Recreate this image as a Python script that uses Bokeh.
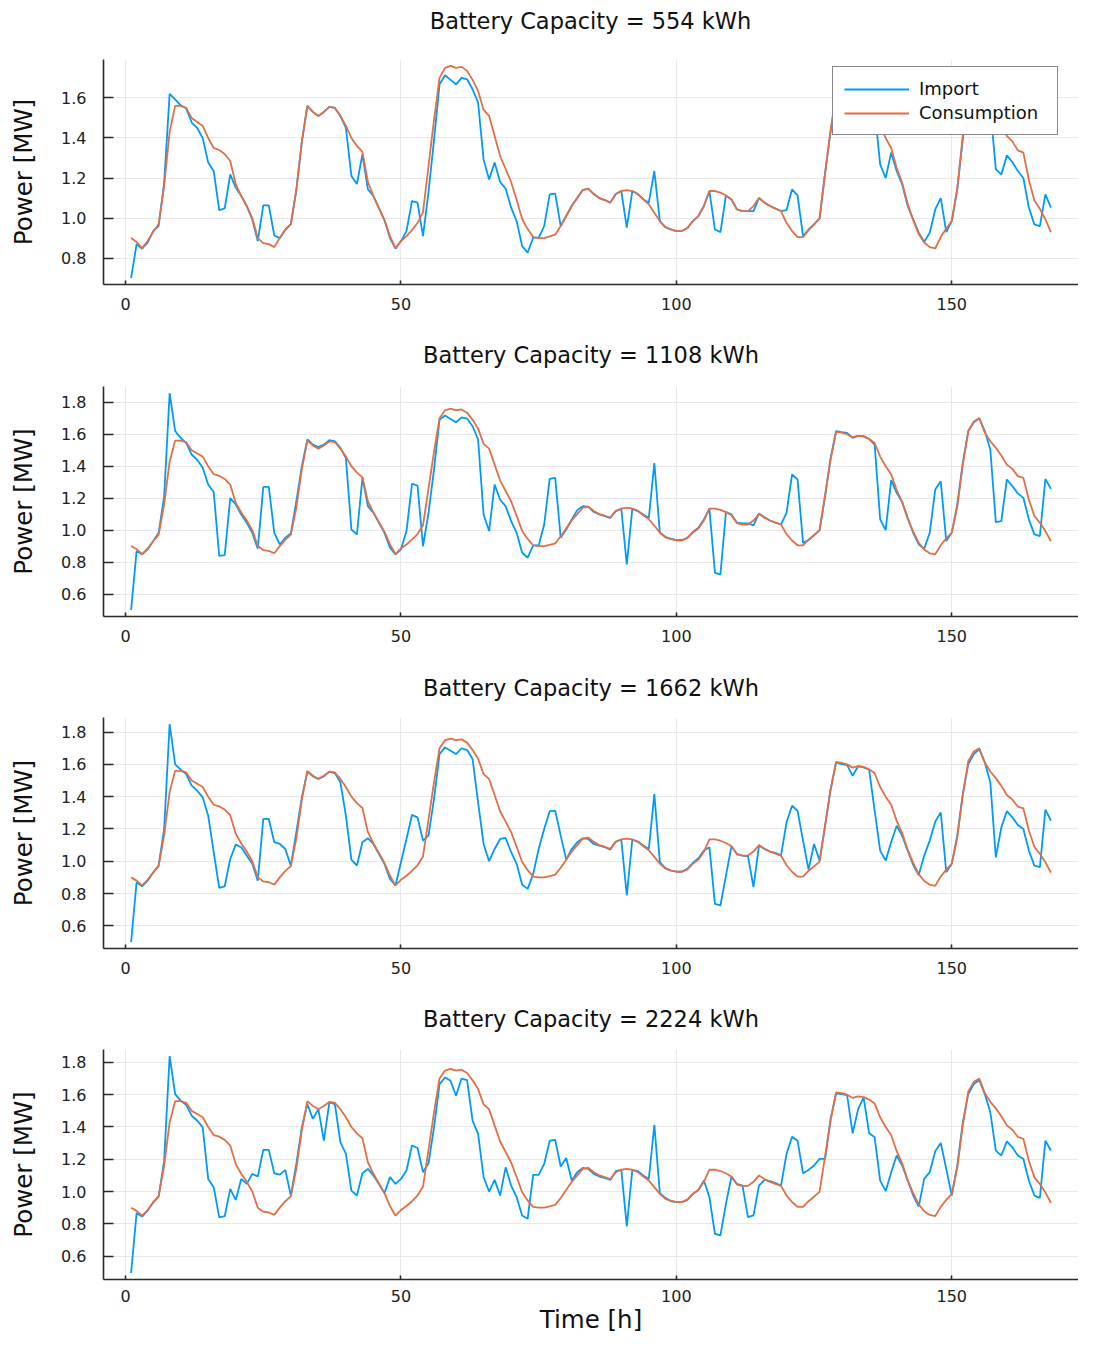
from bokeh.plotting import figure
from bokeh.layouts import column
from bokeh.models import Range1d, FixedTicker, Legend, LegendItem, PrintfTickFormatter, Div
from bokeh.embed import file_html
from bokeh.resources import INLINE

hours = list(range(1, 169))

consumption = [
    0.90, 0.88, 0.85, 0.885, 0.93, 0.97, 1.16, 1.43, 1.56, 1.56,
    1.55, 1.50, 1.48, 1.46, 1.40, 1.35, 1.34, 1.32, 1.285, 1.17,
    1.11, 1.06, 1.00, 0.90, 0.875, 0.87, 0.855, 0.90, 0.94, 0.97,
    1.14, 1.38, 1.56, 1.53, 1.51, 1.53, 1.555, 1.55, 1.51, 1.46,
    1.40, 1.36, 1.33, 1.18, 1.11, 1.05, 0.99, 0.91, 0.85, 0.885,
    0.91, 0.94, 0.975, 1.03, 1.26, 1.49, 1.70, 1.75, 1.76, 1.75,
    1.755, 1.735, 1.69, 1.635, 1.54, 1.51, 1.41, 1.31, 1.245, 1.18,
    1.09, 0.995, 0.945, 0.905, 0.90, 0.90, 0.908, 0.917, 0.96, 1.01,
    1.06, 1.10, 1.14, 1.147, 1.12, 1.10, 1.09, 1.077, 1.12, 1.135,
    1.14, 1.135, 1.12, 1.093, 1.068, 1.027, 0.985, 0.955, 0.943, 0.935,
    0.935, 0.95, 0.985, 1.01, 1.06, 1.135, 1.135, 1.127, 1.113, 1.093,
    1.043, 1.035, 1.035, 1.06, 1.10, 1.077, 1.06, 1.047, 1.035, 0.975,
    0.935, 0.905, 0.905, 0.94, 0.968, 0.998, 1.22, 1.44, 1.615, 1.61,
    1.60, 1.58, 1.59, 1.585, 1.57, 1.545, 1.46, 1.40, 1.35, 1.25,
    1.175, 1.07, 0.99, 0.92, 0.878, 0.855, 0.848, 0.905, 0.948, 0.985,
    1.147, 1.41, 1.62, 1.68, 1.70, 1.61, 1.556, 1.515, 1.467, 1.41,
    1.383, 1.338, 1.327, 1.19, 1.088, 1.046, 0.994, 0.93,
]

import_554 = [
    0.70, 0.87, 0.847, 0.877, 0.935, 0.96, 1.177, 1.62, 1.593, 1.563,
    1.548, 1.477, 1.45, 1.40, 1.277, 1.235, 1.04, 1.048, 1.218, 1.152,
    1.11, 1.06, 0.993, 0.885, 1.063, 1.063, 0.913, 0.90, 0.943, 0.97,
    1.14, 1.38, 1.56, 1.53, 1.51, 1.53, 1.555, 1.55, 1.51, 1.45,
    1.21, 1.17, 1.318, 1.143, 1.11, 1.05, 0.99, 0.90, 0.847, 0.885,
    0.935, 1.085, 1.077, 0.91, 1.13, 1.39, 1.668, 1.713, 1.69, 1.668,
    1.70, 1.693, 1.643, 1.577, 1.293, 1.193, 1.277, 1.18, 1.147, 1.052,
    0.985, 0.86, 0.827, 0.902, 0.902, 0.96, 1.118, 1.122, 0.96, 1.01,
    1.06, 1.10, 1.14, 1.147, 1.12, 1.10, 1.09, 1.077, 1.12, 1.135,
    0.952, 1.135, 1.12, 1.093, 1.077, 1.235, 0.985, 0.955, 0.943, 0.935,
    0.935, 0.95, 0.985, 1.01, 1.06, 1.135, 0.943, 0.93, 1.113, 1.093,
    1.043, 1.035, 1.035, 1.035, 1.10, 1.077, 1.06, 1.047, 1.035, 1.04,
    1.143, 1.113, 0.91, 0.943, 0.968, 0.997, 1.227, 1.43, 1.62, 1.61,
    1.60, 1.58, 1.59, 1.585, 1.57, 1.54, 1.268, 1.20, 1.327, 1.235,
    1.168, 1.06, 0.993, 0.927, 0.882, 0.927, 1.043, 1.10, 0.93, 0.985,
    1.143, 1.393, 1.62, 1.68, 1.70, 1.61, 1.55, 1.243, 1.218, 1.313,
    1.28, 1.235, 1.20, 1.052, 0.968, 0.96, 1.118, 1.052,
]

import_1108 = [
    0.50, 0.869, 0.848, 0.879, 0.931, 0.983, 1.21, 1.858, 1.62, 1.577,
    1.546, 1.473, 1.44, 1.39, 1.285, 1.238, 0.838, 0.844, 1.20, 1.16,
    1.098, 1.046, 0.983, 0.883, 1.27, 1.27, 0.983, 0.91, 0.952, 0.979,
    1.18, 1.40, 1.567, 1.535, 1.519, 1.535, 1.563, 1.556, 1.515, 1.45,
    1.004, 0.973, 1.327, 1.15, 1.108, 1.046, 0.983, 0.89, 0.848, 0.879,
    0.994, 1.29, 1.279, 0.90, 1.108, 1.38, 1.69, 1.717, 1.696, 1.675,
    1.706, 1.698, 1.65, 1.567, 1.098, 0.994, 1.285, 1.19, 1.15, 1.056,
    0.983, 0.858, 0.827, 0.904, 0.904, 1.035, 1.32, 1.327, 0.952, 1.004,
    1.067, 1.125, 1.15, 1.146, 1.113, 1.098, 1.088, 1.077, 1.119, 1.133,
    0.785, 1.133, 1.119, 1.098, 1.077, 1.42, 0.983, 0.958, 0.946, 0.938,
    0.938, 0.952, 0.988, 1.015, 1.067, 1.133, 0.733, 0.723, 1.113, 1.098,
    1.046, 1.042, 1.042, 1.029, 1.104, 1.08, 1.06, 1.046, 1.035, 1.108,
    1.348, 1.317, 0.92, 0.938, 0.969, 1.0, 1.21, 1.45, 1.62, 1.613,
    1.608, 1.577, 1.59, 1.588, 1.57, 1.535, 1.067, 1.0, 1.313, 1.233,
    1.175, 1.077, 0.983, 0.91, 0.883, 0.983, 1.254, 1.306, 0.931, 0.983,
    1.16, 1.42, 1.62, 1.675, 1.70, 1.62, 1.504, 1.05, 1.056, 1.317,
    1.275, 1.23, 1.202, 1.067, 0.973, 0.963, 1.32, 1.258,
]

import_1662 = [
    0.50, 0.87, 0.845, 0.88, 0.93, 0.973, 1.20, 1.85, 1.60, 1.567,
    1.54, 1.468, 1.437, 1.396, 1.282, 1.056, 0.835, 0.845, 1.014, 1.103,
    1.087, 1.035, 0.984, 0.88, 1.262, 1.262, 1.118, 1.107, 1.076, 0.973,
    1.18, 1.396, 1.555, 1.526, 1.51, 1.526, 1.555, 1.546, 1.489, 1.282,
    1.01, 0.973, 1.118, 1.142, 1.107, 1.045, 0.984, 0.89, 0.85, 0.994,
    1.138, 1.287, 1.272, 1.128, 1.16, 1.386, 1.664, 1.705, 1.685, 1.664,
    1.70, 1.689, 1.633, 1.365, 1.107, 1.0, 1.076, 1.138, 1.144, 1.056,
    0.984, 0.854, 0.829, 0.92, 1.076, 1.20, 1.31, 1.313, 1.159, 1.01,
    1.076, 1.118, 1.142, 1.138, 1.107, 1.097, 1.087, 1.072, 1.122, 1.134,
    0.788, 1.134, 1.122, 1.097, 1.076, 1.416, 0.994, 0.957, 0.942, 0.936,
    0.936, 0.953, 0.99, 1.019, 1.066, 1.087, 0.736, 0.726, 0.911, 1.093,
    1.045, 1.035, 1.031, 0.84, 1.097, 1.076, 1.06, 1.052, 1.035, 1.241,
    1.344, 1.313, 1.128, 0.948, 1.107, 1.004, 1.22, 1.447, 1.612, 1.602,
    1.596, 1.53, 1.588, 1.581, 1.567, 1.313, 1.066, 1.004, 1.118, 1.22,
    1.159, 1.066, 0.977, 0.915, 1.035, 1.128, 1.245, 1.303, 0.932, 0.984,
    1.159, 1.416, 1.602, 1.664, 1.695, 1.612, 1.489, 1.025, 1.21, 1.31,
    1.272, 1.225, 1.20, 1.066, 0.973, 0.963, 1.32, 1.252,
]

import_2224 = [
    0.495, 0.866, 0.845, 0.882, 0.934, 0.969, 1.19, 1.84, 1.604, 1.563,
    1.538, 1.47, 1.44, 1.398, 1.078, 1.027, 0.84, 0.847, 1.016, 0.948,
    1.078, 1.047, 1.109, 1.093, 1.258, 1.258, 1.113, 1.105, 1.134, 0.975,
    1.171, 1.398, 1.542, 1.45, 1.511, 1.315, 1.553, 1.542, 1.305, 1.233,
    1.006, 0.975, 1.113, 1.14, 1.099, 1.047, 0.99, 1.089, 1.047, 1.078,
    1.13, 1.285, 1.27, 1.12, 1.175, 1.398, 1.666, 1.707, 1.687, 1.594,
    1.70, 1.69, 1.44, 1.357, 1.089, 1.0, 1.072, 0.975, 1.15, 1.037,
    0.965, 0.852, 0.831, 1.103, 1.103, 1.171, 1.315, 1.32, 1.155, 1.208,
    1.068, 1.12, 1.146, 1.14, 1.109, 1.093, 1.085, 1.072, 1.126, 1.134,
    0.784, 1.134, 1.126, 1.099, 1.078, 1.414, 0.99, 0.961, 0.94, 0.934,
    0.934, 0.948, 0.986, 1.01, 1.068, 0.965, 0.738, 0.728, 0.924, 1.093,
    1.047, 1.037, 0.841, 0.852, 1.037, 1.072, 1.064, 1.052, 1.037, 1.233,
    1.34, 1.315, 1.113, 1.134, 1.161, 1.202, 1.202, 1.45, 1.608, 1.604,
    1.598, 1.361, 1.511, 1.584, 1.361, 1.336, 1.068, 1.002, 1.12, 1.223,
    1.161, 1.068, 0.975, 0.907, 1.078, 1.12, 1.249, 1.301, 1.14, 0.975,
    1.161, 1.429, 1.604, 1.666, 1.691, 1.604, 1.491, 1.254, 1.223, 1.311,
    1.274, 1.223, 1.202, 1.068, 0.975, 0.961, 1.315, 1.254,
]

capacities = [554, 1108, 1662, 2224]
imports = [import_554, import_1108, import_1662, import_2224]
x_ticks = [0, 50, 100, 150]
y_ticks = [
    [0.8, 1.0, 1.2, 1.4, 1.6],
    [0.6, 0.8, 1.0, 1.2, 1.4, 1.6, 1.8],
    [0.6, 0.8, 1.0, 1.2, 1.4, 1.6, 1.8],
    [0.6, 0.8, 1.0, 1.2, 1.4, 1.6, 1.8],
]

FONT = "DejaVu Sans"
BLUE = "#009AF9"
ORANGE = "#E36F47"
AXIS = "#2b2b2b"
GRID = "#e8e8e8"

W = 1078
LEFT = 103
head_h = 42
heights = [321 - head_h, 332, 333, 350]
b_top = [59 - head_h, 64, 64, 62]
b_bottom = [37, 37, 38, 57]
t_standoff = [0, 37, 34, 35]

xpad = 0.03 * (hours[-1] - hours[0])
items = []
for i, (cap, imp) in enumerate(zip(capacities, imports)):
    lo = min(min(imp), min(consumption))
    hi = max(max(imp), max(consumption))
    pad = 0.03 * (hi - lo)
    title_text = f"Battery Capacity = {cap} kWh"
    if i == 0:
        head = Div(text=title_text, width=W, height=head_h, margin=(0, 0, 0, 0),
                   styles={"font-family": FONT, "font-size": "22.5px", "color": "#111111",
                           "text-align": "center", "line-height": f"{head_h}px",
                           "padding-left": f"{LEFT}px", "box-sizing": "border-box",
                           "white-space": "nowrap"})
        items.append(head)
    p = figure(width=W, height=heights[i], output_backend="svg", toolbar_location=None,
               x_range=Range1d(hours[0] - xpad, hours[-1] + xpad),
               y_range=Range1d(lo - pad, hi + pad),
               min_border_left=LEFT, min_border_right=0,
               min_border_top=b_top[i], min_border_bottom=b_bottom[i],
               title=None if i == 0 else title_text)
    if i > 0:
        p.title.align = "center"
        p.title.text_font = FONT
        p.title.text_font_size = "22.5px"
        p.title.text_font_style = "normal"
        p.title.text_color = "#111111"
        p.title.standoff = t_standoff[i]
    p.outline_line_color = None
    p.background_fill_color = "white"
    p.border_fill_color = "white"

    r_imp = p.line(hours, imp, line_color=BLUE, line_width=1.8)
    r_con = p.line(hours, consumption, line_color=ORANGE, line_width=1.8)

    p.xaxis.ticker = FixedTicker(ticks=x_ticks)
    p.yaxis.ticker = FixedTicker(ticks=y_ticks[i])
    p.yaxis.formatter = PrintfTickFormatter(format="%.1f")
    for ax in (p.xaxis[0], p.yaxis[0]):
        ax.axis_line_color = AXIS
        ax.axis_line_width = 1.6
        ax.major_tick_line_color = AXIS
        ax.major_tick_line_width = 1.6
        ax.minor_tick_line_color = None
        ax.major_tick_out = 0
        ax.major_label_text_font = FONT
        ax.major_label_text_font_size = "16px"
        ax.major_label_text_color = "#222222"
        ax.axis_label_text_font = FONT
        ax.axis_label_text_font_size = "24.5px"
        ax.axis_label_text_font_style = "normal"
        ax.axis_label_text_color = "#111111"
    p.yaxis.major_tick_in = 10
    p.xaxis.major_tick_in = 4
    p.yaxis.major_label_standoff = 17
    p.xaxis.major_label_standoff = 13
    p.yaxis.axis_label = "Power [MW]"
    p.yaxis.axis_label_standoff = 20
    if i == 3:
        p.xaxis.major_label_standoff = 10
        p.xaxis.axis_label = "Time [h]"
        p.xaxis.axis_label_standoff = 0
    p.xgrid.grid_line_color = GRID
    p.ygrid.grid_line_color = GRID
    p.xgrid.grid_line_width = 1
    p.ygrid.grid_line_width = 1

    if i == 0:
        legend = Legend(items=[LegendItem(label="Import", renderers=[r_imp]),
                               LegendItem(label="Consumption", renderers=[r_con])],
                        location=(729, 149))
        legend.border_line_color = "#111111"
        legend.border_line_width = 1.5
        legend.background_fill_color = "white"
        legend.background_fill_alpha = 1.0
        legend.label_text_font = FONT
        legend.label_text_font_size = "18px"
        legend.label_text_color = "#111111"
        legend.glyph_width = 65
        legend.glyph_height = 20
        legend.label_height = 20
        legend.label_width = 127
        legend.label_standoff = 10
        legend.padding = 11
        legend.spacing = 3
        legend.margin = 0
        p.add_layout(legend)
    items.append(p)

layout = column(*items, spacing=0)
open("out.html", "w").write(file_html(layout, INLINE))
